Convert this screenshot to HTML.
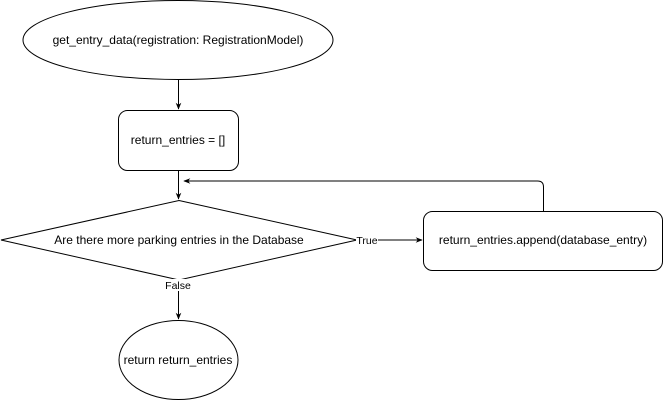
<!DOCTYPE html>
<html><head><style>html,body{margin:0;padding:0;background:#fff;width:664px;height:401px;overflow:hidden}</style></head>
<body>
<svg width="664" height="401" viewBox="0 0 664 401" xmlns="http://www.w3.org/2000/svg" font-family="Liberation Sans, Arial, sans-serif" font-size="12" fill="none" stroke="#000">
<defs><marker id="a" viewBox="0 0 10 10" refX="9" refY="5" markerWidth="7" markerHeight="7" orient="auto"><path d="M0,1 L10,5 L0,9 L3,5 Z" fill="#000" stroke="none"/></marker></defs>
<ellipse cx="178" cy="40" rx="155" ry="39.5" fill="#fff"/>
<line x1="178.5" y1="80" x2="178.5" y2="109" marker-end="url(#a)"/>
<rect x="118.5" y="110.5" width="120" height="60" rx="9" fill="#fff"/>
<line x1="178.5" y1="171" x2="178.5" y2="199" marker-end="url(#a)"/>
<polygon points="179,200.5 357,240 179,280 1,240" fill="#fff"/>
<path d="M357,240 H422" marker-end="url(#a)"/>
<rect x="423.5" y="211.5" width="239" height="59" rx="9" fill="#fff"/>
<path d="M543.5,211 V187 Q543.5,181 537.5,181 H184" marker-end="url(#a)"/>
<line x1="178.5" y1="291" x2="178.5" y2="319" marker-end="url(#a)"/>
<ellipse cx="178.5" cy="360" rx="59.5" ry="39.5" fill="#fff"/>
<rect x="356" y="234" width="22" height="12" fill="#fff" stroke="none"/>
<rect x="162" y="279" width="32" height="12" fill="#fff" stroke="none"/>
<g fill="#000" stroke="none" text-anchor="middle">
<text x="178" y="44">get_entry_data(registration: RegistrationModel)</text>
<text x="178" y="144">return_entries = []</text>
<text x="179" y="244">Are there more parking entries in the Database</text>
<text x="543" y="244">return_entries.append(database_entry)</text>
<text x="178" y="364">return return_entries</text>
<text x="367" y="244" font-size="10.5">True</text>
<text x="178" y="289" font-size="10.5">False</text>
</g>
</svg>
</body></html>
